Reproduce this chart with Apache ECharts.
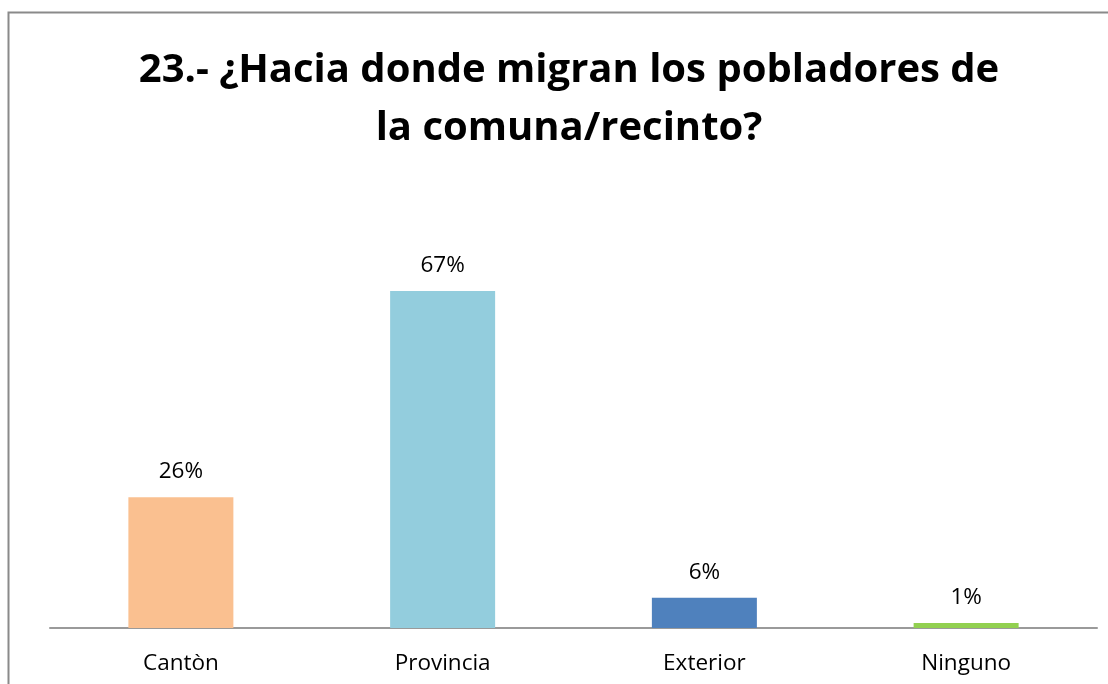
<!DOCTYPE html>
<html>
<head>
<meta charset="utf-8">
<script src="https://cdn.jsdelivr.net/npm/echarts@6/dist/echarts.min.js"></script>
<style>
  html, body { margin: 0; padding: 0; background: #ffffff; }
  #chart { width: 1108px; height: 684px; }
</style>
</head>
<body>
<div id="chart"></div>
<script>
const categories = ["Cantòn", "Provincia", "Exterior", "Ninguno"];
const percentages = [26, 67, 6, 1];
const barColors = ["#fac090", "#93cddd", "#4f81bd", "#92d050"];

const chart = echarts.init(document.getElementById("chart"));

const option = {
  backgroundColor: "#ffffff",
  textStyle: {
    fontFamily: "Open Sans",
  },
  title: {
    text: "23.- ¿Hacia donde migran los pobladores de\nla comuna/recinto?",
    left: 564,
    textAlign: "center",
    top: 37,
    textStyle: {
      fontFamily: "Open Sans",
      fontWeight: "bold",
      fontSize: 40,
      lineHeight: 58,
      color: "#000000",
    },
  },
  graphic: [
    {
      type: "rect",
      left: 6,
      top: 10,
      shape: { width: 1200, height: 800 },
      style: { fill: "none", stroke: "#8a8a8a", lineWidth: 2 },
      silent: true,
    },
  ],
  grid: {
    left: 50,
    right: 11,
    top: 125,
    bottom: 56,
  },
  xAxis: {
    type: "category",
    data: categories,
    axisLine: {
      lineStyle: { color: "#9a9a9a", width: 2 },
    },
    axisTick: { show: false },
    axisLabel: {
      interval: 0,
      margin: 24,
      fontSize: 22.5,
      color: "#000000",
    },
  },
  yAxis: {
    type: "value",
    min: 0,
    max: 100,
    show: false,
    splitLine: { show: false },
  },
  series: [
    {
      type: "bar",
      barWidth: 105,
      data: percentages.map((v, i) => ({
        value: v,
        itemStyle: { color: barColors[i] },
      })),
      label: {
        show: true,
        position: "top",
        distance: 14,
        fontSize: 22.5,
        color: "#000000",
        formatter: (p) => p.value + "%",
      },
    },
  ],
};

chart.setOption(option);
</script>
</body>
</html>
